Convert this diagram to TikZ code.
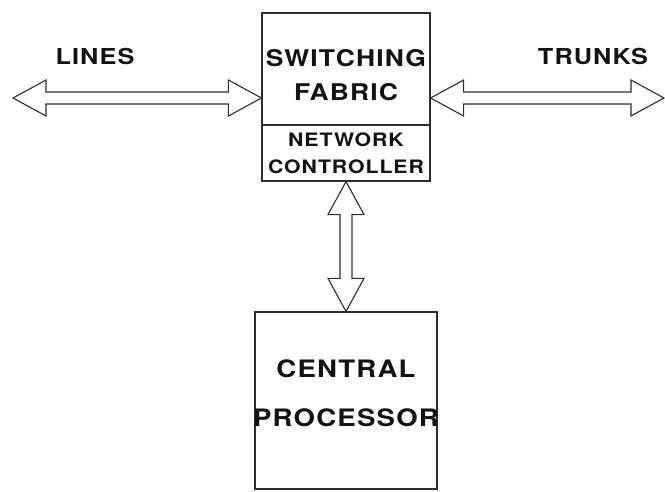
\documentclass[tikz,border=0pt]{standalone}
\usepackage{fontspec}
\usetikzlibrary{calc,positioning}
\newfontfamily\diagfont{TeX Gyre Heros}[FakeStretch=1.15,LetterSpace=5]
\definecolor{inkline}{RGB}{45,45,45}
\definecolor{inktext}{RGB}{18,18,18}
\newcommand{\arrhl}{33pt}
\newcommand{\arrhw}{18pt}
\newcommand{\arrsw}{6pt}
% hollow two-headed block arrow between two named points
\newcommand{\dblarrow}[2]{%
  \draw[barrow] (#1)
    -- ($ ($(#1)!\arrhl!(#2)$) !\arrhw! 90:(#2) $)
    -- ($ ($(#1)!\arrhl!(#2)$) !\arrsw! 90:(#2) $)
    -- ($ ($(#2)!\arrhl!(#1)$) !\arrsw! -90:(#1) $)
    -- ($ ($(#2)!\arrhl!(#1)$) !\arrhw! -90:(#1) $)
    -- (#2)
    -- ($ ($(#2)!\arrhl!(#1)$) !\arrhw! 90:(#1) $)
    -- ($ ($(#2)!\arrhl!(#1)$) !\arrsw! 90:(#1) $)
    -- ($ ($(#1)!\arrhl!(#2)$) !\arrsw! -90:(#2) $)
    -- ($ ($(#1)!\arrhl!(#2)$) !\arrhw! -90:(#2) $)
    -- cycle;}

\begin{document}
\begin{tikzpicture}[x=1pt,y=-1pt,
  box/.style={draw=inkline,line width=1.2pt,inner sep=0pt},
  btxt/.style={text=inktext,inner sep=0pt,align=center},
  barrow/.style={draw=inkline,line width=1.1pt,line join=miter,fill=white},
  lbl/.style={text=inktext,inner sep=0pt,font=\diagfont\bfseries\fontsize{22}{26}\selectfont}]
\useasboundingbox (0,0) rectangle (665,491);
% ---- exchange blocks
\node[box,minimum width=168pt,minimum height=112pt] (fabric) at (346,69) {};
\node[box,minimum width=168pt,minimum height=56pt] (ctrl) at (346,153) {};
\node[box,minimum width=182pt,minimum height=177pt] (cpu) at (346,400.5) {};
\node[btxt,font=\diagfont\bfseries\fontsize{23}{34}\selectfont]
  (fabrictxt) at ([yshift=-6pt]fabric.center) {SWITCHING\\FABRIC};
\node[btxt,font=\diagfont\bfseries\fontsize{18.5}{27}\selectfont]
  (ctrltxt) at (ctrl.center) {NETWORK\\CONTROLLER};
\node[btxt,font=\diagfont\bfseries\fontsize{24}{49}\selectfont]
  (cputxt) at ([yshift=7pt]cpu.center) {CENTRAL\\PROCESSOR};
% ---- side labels
\node[lbl] (linestxt) at (95,56) {LINES};
\node[lbl] (trunkstxt) at (593,56) {TRUNKS};
% ---- arrow ends
\coordinate (lines) at (13,98);
\coordinate (trunks) at (664,98);
\coordinate (fabw) at (fabric.west |- lines);
\coordinate (fabe) at (fabric.east |- trunks);
% ---- arrows
\dblarrow{lines}{fabw}
\dblarrow{fabe}{trunks}
\dblarrow{ctrl.south}{cpu.north}
\end{tikzpicture}
\end{document}
